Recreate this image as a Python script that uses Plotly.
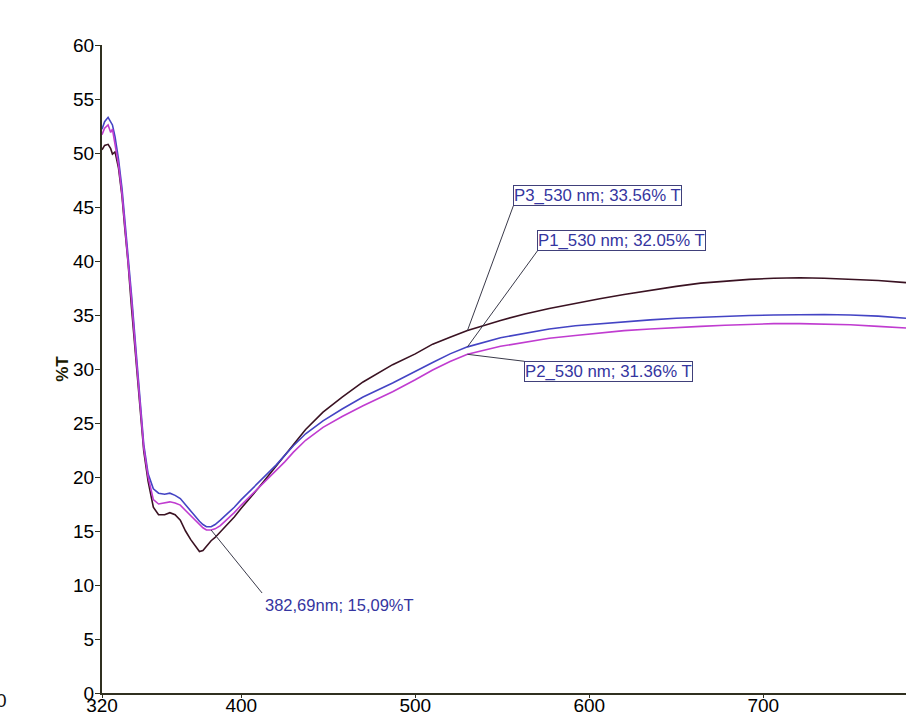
import plotly.graph_objects as go

# Wavelength grid (nm)
wavelength = [320, 321.5, 323.5, 325, 326, 327.5, 329.5, 331.5, 333, 335, 337, 339.5, 342, 344,
              346.5, 349.5, 352.5, 356, 359, 362, 365, 368, 371, 374, 376, 378, 380, 382.7, 385,
              388, 392, 396, 400, 405, 410, 415, 420, 425, 430, 437, 447, 458, 470, 487, 500,
              510, 520, 530, 549, 563, 577, 592, 606, 620, 635, 650, 664, 678, 692, 706, 721,
              735, 750, 766, 782]

# %T series
p1_blue = [52.2, 52.9, 53.3, 52.9, 52.6, 51.5, 49.4, 46.7, 44.0, 40.8, 36.8, 31.8, 26.8, 23.0,
           20.3, 18.9, 18.5, 18.4, 18.5, 18.3, 18.0, 17.4, 16.8, 16.2, 15.9, 15.6, 15.4, 15.4, 15.6,
           16.0, 16.6, 17.2, 17.9, 18.7, 19.5, 20.3, 21.1, 22.0, 22.9, 24.0, 25.2, 26.3, 27.4, 28.7, 29.8,
           30.6, 31.4, 32.05, 32.9, 33.3, 33.7, 34.0, 34.2, 34.4, 34.55, 34.7, 34.8, 34.9, 34.95, 35.0, 35.05,
           35.05, 35.0, 34.9, 34.7]
p2_magenta = [51.7, 52.3, 52.6, 51.9, 52.2, 50.9, 48.9, 46.2, 43.5, 40.3, 36.3, 31.3, 26.4, 22.7,
              20.0, 17.9, 17.5, 17.6, 17.7, 17.6, 17.4, 16.9, 16.4, 15.9, 15.6, 15.3, 15.1, 15.09, 15.2,
              15.5, 16.1, 16.7, 17.4, 18.2, 19.0, 19.8, 20.6, 21.4, 22.3, 23.4, 24.6, 25.6, 26.6, 27.9, 29.0,
              29.9, 30.7, 31.36, 32.1, 32.5, 32.85, 33.1, 33.35, 33.55, 33.7, 33.85, 33.95, 34.05, 34.15, 34.2, 34.2,
              34.15, 34.1, 33.95, 33.8]
p3_black = [50.3, 50.7, 50.8, 50.4, 49.9, 50.1, 48.6, 46.0, 43.2, 39.8, 35.6, 30.6, 25.8, 22.4,
            19.6, 17.2, 16.5, 16.5, 16.7, 16.5, 16.0, 15.0, 14.2, 13.5, 13.1, 13.2, 13.6, 14.1, 14.4,
            14.9, 15.6, 16.3, 17.1, 18.0, 19.0, 20.0, 21.0, 22.0, 23.0, 24.4, 26.0, 27.4, 28.8, 30.4, 31.4,
            32.3, 32.95, 33.56, 34.5, 35.1, 35.6, 36.1, 36.5, 36.9, 37.3, 37.65, 37.95, 38.15, 38.3, 38.4, 38.45,
            38.4, 38.3, 38.2, 38.0]

x_ticks = [320, 400, 500, 600, 700]
y_ticks = [0, 5, 10, 15, 20, 25, 30, 35, 40, 45, 50, 55, 60]

marker_wl = 530
labels = [
    ("P3_530 nm; 33.56% T", 33.56, 46, -125, "left", "bottom"),
    ("P1_530 nm; 32.05% T", 32.05, 70, -96, "left", "bottom"),
    ("P2_530 nm; 31.36% T", 31.36, 57, 7, "left", "top"),
]
min_wl, min_val, min_text = 382.69, 15.09, "382,69nm; 15,09%T"

FONT = "Liberation Sans, Arial, sans-serif"

fig = go.Figure()
fig.add_trace(go.Scatter(x=wavelength, y=p3_black, mode="lines", line=dict(color="#3a1222", width=1.6), name="P3"))
fig.add_trace(go.Scatter(x=wavelength, y=p1_blue, mode="lines", line=dict(color="#4444c4", width=1.6), name="P1"))
fig.add_trace(go.Scatter(x=wavelength, y=p2_magenta, mode="lines", line=dict(color="#c03cd0", width=1.6), name="P2"))

annotations = []
for text, val, ax, ay, xa, ya in labels:
    annotations.append(dict(
        x=marker_wl, y=val, xref="x", yref="y", text=text, showarrow=True,
        ax=ax, ay=ay, xanchor=xa, yanchor=ya, arrowhead=0, arrowwidth=1, arrowcolor="#3a3a4a",
        font=dict(family=FONT, size=16.8, color="#3535a0"),
        bgcolor="white", bordercolor="#40407a", borderwidth=1, borderpad=0,
    ))
annotations.append(dict(
    x=min_wl, y=min_val, xref="x", yref="y", text=min_text, showarrow=True,
    ax=51, ay=63, xanchor="left", yanchor="top", arrowhead=0, arrowwidth=1, arrowcolor="#3a3a4a",
    font=dict(family=FONT, size=16.5, color="#3535a0"), borderpad=2,
))
annotations.append(dict(
    x=-0.1245, y=-0.012, xref="paper", yref="paper", text="0", showarrow=False,
    xanchor="center", yanchor="middle", font=dict(family=FONT, size=19, color="#111111"),
))

fig.update_layout(
    width=906, height=718,
    margin=dict(l=102, r=0, t=45, b=25, autoexpand=False),
    plot_bgcolor="white", paper_bgcolor="white",
    showlegend=False,
    hovermode=False,
    annotations=annotations,
    xaxis=dict(
        range=[320, 782], tickvals=x_ticks, ticktext=[str(v) for v in x_ticks],
        showgrid=False, zeroline=False, showline=True, linecolor="#303020", linewidth=2,
        ticks="outside", ticklen=3, tickcolor="#303020", tickwidth=1, automargin=False,
        ticklabelstandoff=-9,
        tickfont=dict(family=FONT, size=19, color="#000000"),
    ),
    yaxis=dict(
        range=[0, 60], tickvals=y_ticks, ticktext=[str(v) for v in y_ticks],
        showgrid=False, zeroline=False, showline=True, linecolor="#303020", linewidth=2,
        ticks="outside", ticklen=5, tickcolor="#303020", tickwidth=1, automargin=False,
        ticklabelstandoff=-3,
        tickfont=dict(family=FONT, size=19, color="#000000"),
        title=dict(text="<b>%T</b>", standoff=0, font=dict(family=FONT, size=17, color="#1a1a00")),
    ),
)

fig.write_html(
    "out.html",
    config={"displayModeBar": False},
    post_script="document.body.style.margin='0';document.body.style.overflow='hidden';",
)
